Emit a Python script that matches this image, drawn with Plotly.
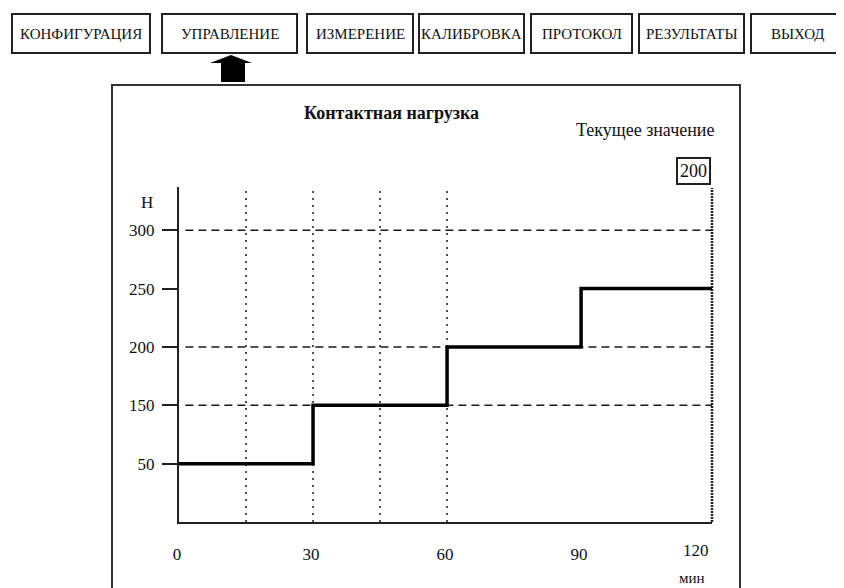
import plotly.graph_objects as go

# data
time_min = [0, 30, 60, 90, 119.3]
load_n = ["50", "150", "200", "250", "250"]
y_levels = ["50", "150", "200", "250", "300"]
x_ticks = [0, 30, 60, 90]
x_last_label = "120"
h_grid = ["300", "200", "150"]
v_grid = [15, 30, 45, 60]
current_value = 200
menu = ["КОНФИГУРАЦИЯ", "УПРАВЛЕНИЕ", "ИЗМЕРЕНИЕ", "КАЛИБРОВКА", "ПРОТОКОЛ", "РЕЗУЛЬТАТЫ", "ВЫХОД"]
menu_x = [(12, 150), (162, 297), (307, 413), (419, 524), (531, 632), (639, 744), (751, 843)]

W, H = 844, 588
OFF = 8  # page margin of the browser
L, R, T, B = 179, 712, 187, 522
FONT = "Liberation Serif"
INK = "#1a1a1a"


def px(x):
    return (x - L) / (R - L)


def py(y):
    return (B - y) / (B - T)


def label(text, x, y, size=16, **kw):
    d = dict(text=text, xref="paper", yref="paper", x=px(x), y=py(y), xanchor="center",
             yanchor="middle", showarrow=False, font=dict(family=FONT, size=size, color="#111"))
    d.update(kw)
    return d


fig = go.Figure()
fig.add_trace(go.Scatter(x=time_min, y=load_n, mode="lines", line_shape="hv",
                         line=dict(color="black", width=3.5), hoverinfo="skip"))

shapes = []
for v in v_grid:
    shapes.append(dict(type="line", xref="x", yref="y domain", x0=v, x1=v, y0=0, y1=1,
                       line=dict(color=INK, width=1.5, dash="2px,5px"), layer="below"))
for lvl in h_grid:
    i = y_levels.index(lvl)
    shapes.append(dict(type="line", xref="x domain", yref="y", x0=0.012, x1=1, y0=i, y1=i,
                       line=dict(color=INK, width=1.5, dash="8px,5px"), layer="below"))
# dense dotted right edge
shapes.append(dict(type="line", xref="x domain", yref="y domain", x0=1, x1=1, y0=0, y1=0.997,
                   line=dict(color=INK, width=2.5, dash="2px,1px")))
# outer panel
shapes.append(dict(type="rect", xref="paper", yref="paper", x0=px(112), x1=px(740), y0=py(620), y1=py(85),
                   line=dict(color="#333", width=2)))
# menu buttons
for (a, b) in menu_x:
    shapes.append(dict(type="rect", xref="paper", yref="paper", x0=px(a), x1=px(b), y0=py(53), y1=py(14),
                       line=dict(color="#222", width=2), fillcolor="white"))
# arrow under the active button
arrow = [(231, 55), (252, 63), (245, 63), (245, 82), (221, 82), (221, 63), (210, 63)]
path = "M " + " L ".join(f"{px(x)},{py(y)}" for x, y in arrow) + " Z"
shapes.append(dict(type="path", xref="paper", yref="paper", path=path, fillcolor="black", line=dict(width=0)))

ann = [label(name, (a + b) / 2, 34, size=15) for name, (a, b) in zip(menu, menu_x)]
ann += [
    label("<b>Контактная нагрузка</b>", 391, 113, size=18),
    label("Текущее значение", 645, 130, size=18),
    label(str(current_value), 693, 171, size=18, bordercolor="#222", borderwidth=2,
          borderpad=2, bgcolor="white"),
    label("Н", 147, 202, size=17),
    dict(text=x_last_label, xref="x domain", yref="paper", x=1, y=py(550), xanchor="right",
         yanchor="middle", xshift=-1, showarrow=False, font=dict(family=FONT, size=17, color="#111")),
    label("мин", 692, 578, size=15),
]

fig.update_layout(
    width=W, height=H,
    margin=dict(l=L - OFF, r=W - R + OFF, t=T - OFF, b=H - B + OFF),
    paper_bgcolor="white", plot_bgcolor="white",
    showlegend=False,
    font=dict(family=FONT, size=17, color="#111"),
    shapes=shapes, annotations=ann,
    xaxis=dict(range=[0, 119.3], tickvals=x_ticks, ticks="", showgrid=False, zeroline=False,
               showline=True, linecolor="#222", linewidth=2, ticklabelstandoff=16, ticklabelshift=-2,
               fixedrange=True),
    yaxis=dict(type="category", categoryarray=y_levels, range=[-1, 4.74], ticks="outside",
               ticklen=15, tickwidth=2, tickcolor="#222", showgrid=False, zeroline=False,
               showline=True, linecolor="#222", linewidth=2, ticklabelstandoff=4, fixedrange=True),
)

fig.write_html("out.html")
